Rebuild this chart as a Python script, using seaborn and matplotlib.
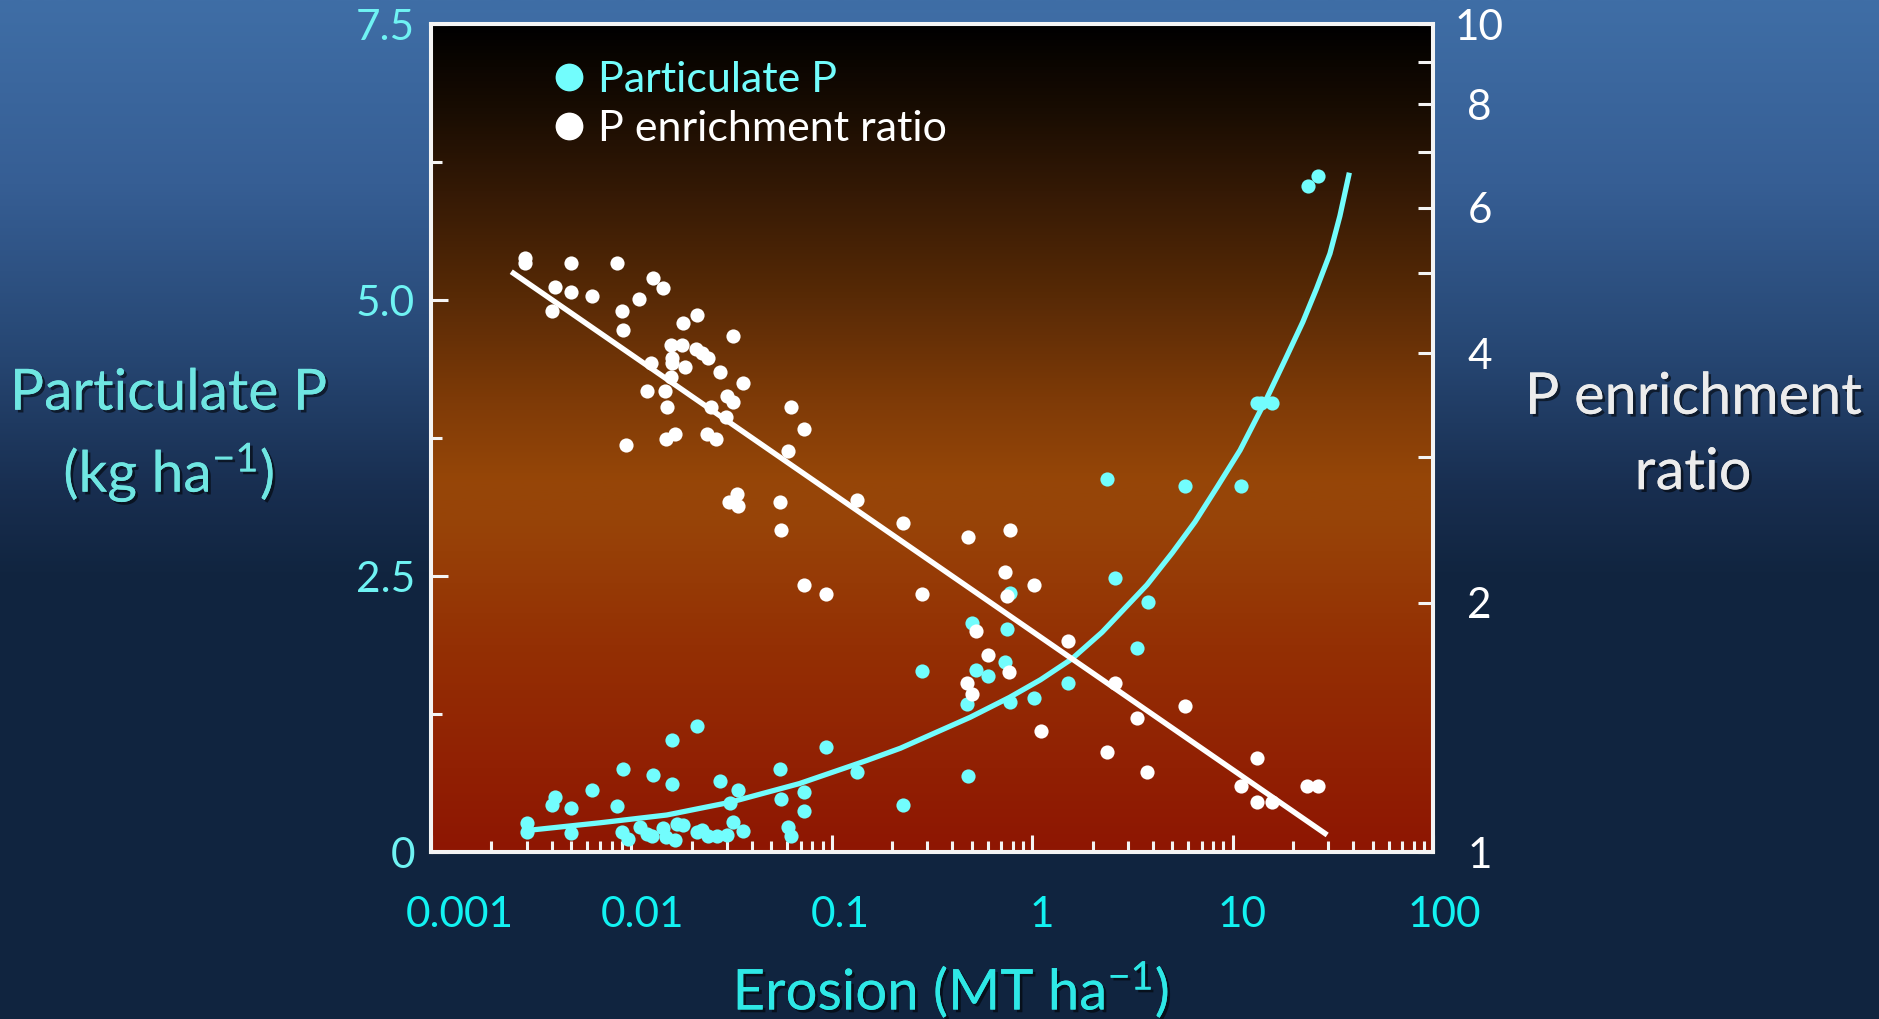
import numpy as np
import pandas as pd
import matplotlib
matplotlib.use("Agg")
import matplotlib.pyplot as plt
import seaborn as sns
from matplotlib.colors import LinearSegmentedColormap
from matplotlib.lines import Line2D
from matplotlib import patheffects as pe
from matplotlib.ticker import FixedLocator, FixedFormatter, NullFormatter
import matplotlib.transforms as mtransforms

# ---------------- data ----------------
pp_erosion = [0.00300, 0.00300, 0.00400, 0.00416, 0.00500, 0.00500, 0.00634, 0.00845,
              0.00911, 0.00898, 0.00958, 0.01277, 0.0159, 0.0160, 0.0213, 0.0277,
              0.0339, 0.0310, 0.0551, 0.0557, 0.0729, 0.0729, 0.0932, 0.133, 0.227,
              0.01104, 0.01192, 0.01263, 0.01442, 0.01493, 0.0165, 0.01683, 0.01816,
              0.02118, 0.0224, 0.0242, 0.0266, 0.0299, 0.0323, 0.0362, 0.0602, 0.0628,
              2.36, 5.77, 11.0, 2.59, 3.77, 0.499, 0.746, 0.775, 3.33, 0.281, 0.526,
              0.602, 0.734, 0.473, 0.778, 1.024, 1.514, 0.478, 13.2, 13.9, 15.7, 23.7, 26.7]
pp_values = [0.263, 0.184, 0.426, 0.495, 0.396, 0.172, 0.559, 0.421,
             0.749, 0.178, 0.120, 0.700, 1.014, 0.616, 1.144, 0.646,
             0.562, 0.447, 0.749, 0.477, 0.546, 0.374, 0.954, 0.727, 0.426,
             0.229, 0.166, 0.147, 0.215, 0.134, 0.109, 0.256, 0.249,
             0.184, 0.199, 0.145, 0.145, 0.154, 0.274, 0.192, 0.222, 0.149,
             3.376, 3.312, 3.312, 2.485, 2.262, 2.077, 2.017, 2.349, 1.845, 1.637, 1.646,
             1.597, 1.724, 1.341, 1.361, 1.392, 1.534, 0.686, 4.064, 4.064, 4.064, 6.035, 6.123]

er_erosion = [0.00296, 0.00296, 0.00500, 0.00845, 0.01277, 0.01442, 0.00416, 0.00500,
              0.00634, 0.01094, 0.00400, 0.00898, 0.00908, 0.0213, 0.0180, 0.0321,
              0.0158, 0.0179, 0.0209, 0.0224, 0.0240, 0.01248, 0.0160, 0.0160, 0.01845,
              0.0276, 0.01577, 0.0359, 0.0120, 0.01472, 0.0300, 0.0321, 0.0151, 0.0250,
              0.0298, 0.0626, 0.0727, 0.00943, 0.0148, 0.0165, 0.0238, 0.0265, 0.0605,
              0.0308, 0.0335, 0.0340, 0.0550, 0.0558, 0.0729, 0.0932, 0.133, 0.227,
              0.478, 0.775, 0.281, 0.734, 1.024, 0.746, 0.524, 0.602, 0.769, 0.473, 0.499,
              1.514, 2.59, 1.11, 3.33, 5.77, 2.36, 3.75, 13.2, 11.0, 13.3, 15.7, 23.6, 26.7]
er_values = [5.22, 5.14, 5.15, 5.15, 4.94, 4.80, 4.81, 4.75,
             4.70, 4.65, 4.50, 4.50, 4.27, 4.45, 4.35, 4.20,
             4.09, 4.10, 4.05, 4.00, 3.95, 3.90, 3.95, 3.90, 3.85,
             3.80, 3.75, 3.69, 3.60, 3.60, 3.55, 3.50, 3.45, 3.45,
             3.35, 3.45, 3.24, 3.10, 3.15, 3.20, 3.20, 3.15, 3.05,
             2.65, 2.71, 2.62, 2.65, 2.45, 2.10, 2.05, 2.66, 2.50,
             2.40, 2.45, 2.05, 2.18, 2.10, 2.04, 1.85, 1.73, 1.65, 1.60, 1.55,
             1.80, 1.60, 1.40, 1.45, 1.50, 1.32, 1.25, 1.30, 1.20, 1.15, 1.15, 1.20, 1.20]

# fitted curves as drawn in the picture
pp_fit_erosion = [0.0032, 0.007, 0.015, 0.031, 0.069, 0.15, 0.22, 0.31, 0.49, 0.77,
                  1.1, 1.58, 2.23, 3.74, 5.0, 6.49, 8.4, 10.9, 14.9, 18.3, 22.4,
                  26.2, 30.6, 34.3, 38.0]
pp_fit_values = [0.20, 0.265, 0.335, 0.45, 0.62, 0.83, 0.94, 1.06, 1.22, 1.40,
                 1.56, 1.75, 1.99, 2.42, 2.71, 2.99, 3.31, 3.64, 4.12, 4.46, 4.80,
                 5.10, 5.42, 5.76, 6.13]
er_fit_erosion = [0.00258, 28.9]
er_fit_values = [5.0, 1.053]

x_ticks = [0.001, 0.01, 0.1, 1, 10, 100]
x_tick_labels = ["0.001", "0.01", "0.1", "1", "10", "100"]
pp_ticks = [0, 2.5, 5.0, 7.5]
pp_tick_labels = ["0", "2.5", "5.0", "7.5"]
pp_minor_ticks = [1.25, 3.75, 6.25]
er_ticks = [1, 2, 4, 6, 8, 10]
er_tick_labels = ["1", "2", "4", "6", "8", "10"]
er_minor_ticks = [3, 5, 7, 9]

# ---------------- style ----------------
plt.rcParams["font.family"] = ["Lato", "DejaVu Sans"]
plt.rcParams["mathtext.fontset"] = "custom"
plt.rcParams["mathtext.rm"] = "Lato"
plt.rcParams["mathtext.it"] = "Lato:italic"
plt.rcParams["mathtext.default"] = "regular"

CYAN = "#72fdfd"
WHITE = "#ffffff"
TICK_CYAN = "#6ff3f3"
XTICK_CYAN = "#12f2f2"
LABEL_CYAN = "#6fe6e2"
XLABEL_CYAN = "#2ee8e6"
RIGHT_LABEL = "#ececec"
TICK_LBL = 30.5

W, H = 1879, 1019
fig = plt.figure(figsize=(W / 100, H / 100), dpi=100)

# figure background gradient
bg_cmap = LinearSegmentedColormap.from_list("bg", [
    (0.0, (63/255, 110/255, 166/255)),
    (0.18, (54/255, 94/255, 148/255)),
    (0.35, (38/255, 70/255, 114/255)),
    (0.48, (24/255, 46/255, 80/255)),
    (0.56, (17/255, 37/255, 64/255)),
    (1.0, (16/255, 36/255, 63/255)),
])
bg = fig.add_axes([0, 0, 1, 1], zorder=-10)
bg.imshow(np.linspace(0, 1, 512).reshape(-1, 1), aspect="auto", cmap=bg_cmap,
          extent=[0, 1, 0, 1], interpolation="bicubic")
bg.set_axis_off()

left, right = 431 / W, 1433 / W
bottom, top = 1 - 852 / H, 1 - 24 / H
rect = [left, bottom, right - left, top - bottom]

plot_cmap = LinearSegmentedColormap.from_list("plotbg", [
    (0.00, (0/255, 0/255, 0/255)),
    (0.10, (24/255, 12/255, 2/255)),
    (0.20, (52/255, 25/255, 5/255)),
    (0.33, (88/255, 42/255, 6/255)),
    (0.45, (125/255, 58/255, 7/255)),
    (0.55, (150/255, 70/255, 8/255)),
    (0.60, (152/255, 68/255, 8/255)),
    (0.75, (148/255, 48/255, 4/255)),
    (0.90, (145/255, 32/255, 3/255)),
    (1.00, (142/255, 22/255, 2/255)),
])
gax = fig.add_axes(rect, zorder=0)
gax.imshow(np.linspace(0, 1, 512).reshape(-1, 1), aspect="auto", cmap=plot_cmap,
           extent=[0, 1, 0, 1], interpolation="bicubic")
gax.set_axis_off()

ax = fig.add_axes(rect, zorder=1)
ax.set_facecolor("none")
ax.set_xscale("log")
ax2 = ax.twinx()
ax2.set_zorder(2)
ax2.set_facecolor("none")

pp_df = pd.DataFrame({"erosion": pp_erosion, "pp": pp_values})
er_df = pd.DataFrame({"erosion": er_erosion, "er": er_values})
pp_fit = pd.DataFrame({"erosion": pp_fit_erosion, "pp": pp_fit_values})
er_fit = pd.DataFrame({"erosion": er_fit_erosion, "er": er_fit_values})

sns.lineplot(data=pp_fit, x="erosion", y="pp", ax=ax, color=CYAN, lw=3.8,
             estimator=None, sort=True, legend=False)
sns.scatterplot(data=pp_df, x="erosion", y="pp", ax=ax, color=CYAN, s=104,
                linewidth=0, legend=False, zorder=3)

ax2.set_yscale("log")
sns.lineplot(data=er_fit, x="erosion", y="er", ax=ax2, color=WHITE, lw=3.9,
             estimator=None, sort=True, legend=False)
sns.scatterplot(data=er_df, x="erosion", y="er", ax=ax2, color=WHITE, s=104,
                linewidth=0, legend=False, zorder=3)

ax.set_xlim(0.001, 100)
ax.set_ylim(0, 7.5)
ax2.set_ylim(1, 10)

# spines
for a in (ax, ax2):
    for s in a.spines.values():
        s.set_color("#f4f4f4")
        s.set_linewidth(2.9)

# x ticks
ax.xaxis.set_major_locator(FixedLocator(x_ticks))
ax.xaxis.set_major_formatter(FixedFormatter(x_tick_labels))
minor_x = [m * 10.0 ** e for e in range(-3, 2) for m in range(2, 10)]
ax.xaxis.set_minor_locator(FixedLocator(minor_x))
ax.xaxis.set_minor_formatter(NullFormatter())
ax.tick_params(axis="x", which="major", direction="in", length=12, width=2.2,
               color="#f4f4f4", labelsize=TICK_LBL, labelcolor=XTICK_CYAN, pad=32, top=False)
ax.tick_params(axis="x", which="minor", direction="in", length=8, width=2.2,
               color="#f4f4f4", top=False)

# left y ticks
ax.yaxis.set_major_locator(FixedLocator(pp_ticks))
ax.yaxis.set_major_formatter(FixedFormatter(pp_tick_labels))
ax.yaxis.set_minor_locator(FixedLocator(pp_minor_ticks))
ax.yaxis.set_minor_formatter(NullFormatter())
ax.tick_params(axis="y", which="major", direction="in", length=12, width=2.2,
               color="#f4f4f4", labelsize=TICK_LBL, labelcolor=TICK_CYAN, pad=11.5, right=False)
ax.tick_params(axis="y", which="minor", direction="in", length=8, width=2.2,
               color="#f4f4f4", right=False)

# right y ticks
ax2.yaxis.set_major_locator(FixedLocator(er_ticks))
ax2.yaxis.set_major_formatter(FixedFormatter(er_tick_labels))
ax2.yaxis.set_minor_locator(FixedLocator(er_minor_ticks))
ax2.yaxis.set_minor_formatter(NullFormatter())
ax2.tick_params(axis="y", which="major", direction="in", length=11, width=2.2,
                color="#f4f4f4", labelsize=TICK_LBL, labelcolor=WHITE, pad=33.5, left=False)
ax2.tick_params(axis="y", which="minor", direction="in", length=11, width=2.2,
                color="#f4f4f4", left=False)
for lab in ax2.get_yticklabels():
    lab.set_horizontalalignment("center")

# nudge x tick labels slightly right like the reference
x_shift_pts = [21, 8, 6, 7, 7, 8]
for lab, sh in zip(ax.get_xticklabels(), x_shift_pts):
    lab.set_transform(lab.get_transform() +
                      mtransforms.ScaledTranslation(sh / 72, 0, fig.dpi_scale_trans))

shadow = [pe.withSimplePatchShadow(offset=(2, -2), shadow_rgbFace="black", alpha=0.55),
          pe.Normal()]

ax.set_xlabel("Erosion (MT ha$^{-1}$)", fontsize=40.5, color=XLABEL_CYAN, va="center",
              path_effects=shadow)
ax.xaxis.set_label_coords((951 - 431) / 1002, (852 - 990) / 828)

ax.set_ylabel("Particulate P\n(kg ha$^{-1}$)", fontsize=41, color=LABEL_CYAN,
              rotation=0, ha="center", va="center", linespacing=1.42, path_effects=shadow)
ax.yaxis.set_label_coords((169 - 431) / 1002, (852 - 437) / 828)

ax2.set_ylabel("P enrichment\nratio", fontsize=41.5, color=RIGHT_LABEL,
               rotation=0, ha="center", va="center", linespacing=1.52, path_effects=shadow)
ax2.yaxis.set_label_coords((1693 - 431) / 1002, (852 - 435) / 828)

handles = [
    Line2D([], [], ls="none", marker="o", markersize=20, markerfacecolor=CYAN,
           markeredgecolor="none"),
    Line2D([], [], ls="none", marker="o", markersize=20, markerfacecolor=WHITE,
           markeredgecolor="none"),
]
leg = ax2.legend(handles, ["Particulate P", "P enrichment ratio"], loc="upper left",
                 bbox_to_anchor=((555 - 431) / 1002, (852 - 61) / 828),
                 frameon=False, fontsize=31, handlelength=0.65, handletextpad=0.36,
                 labelspacing=0.26, borderpad=0, borderaxespad=0,
                 labelcolor=[CYAN, WHITE])

fig.savefig("out.png", dpi=100)
